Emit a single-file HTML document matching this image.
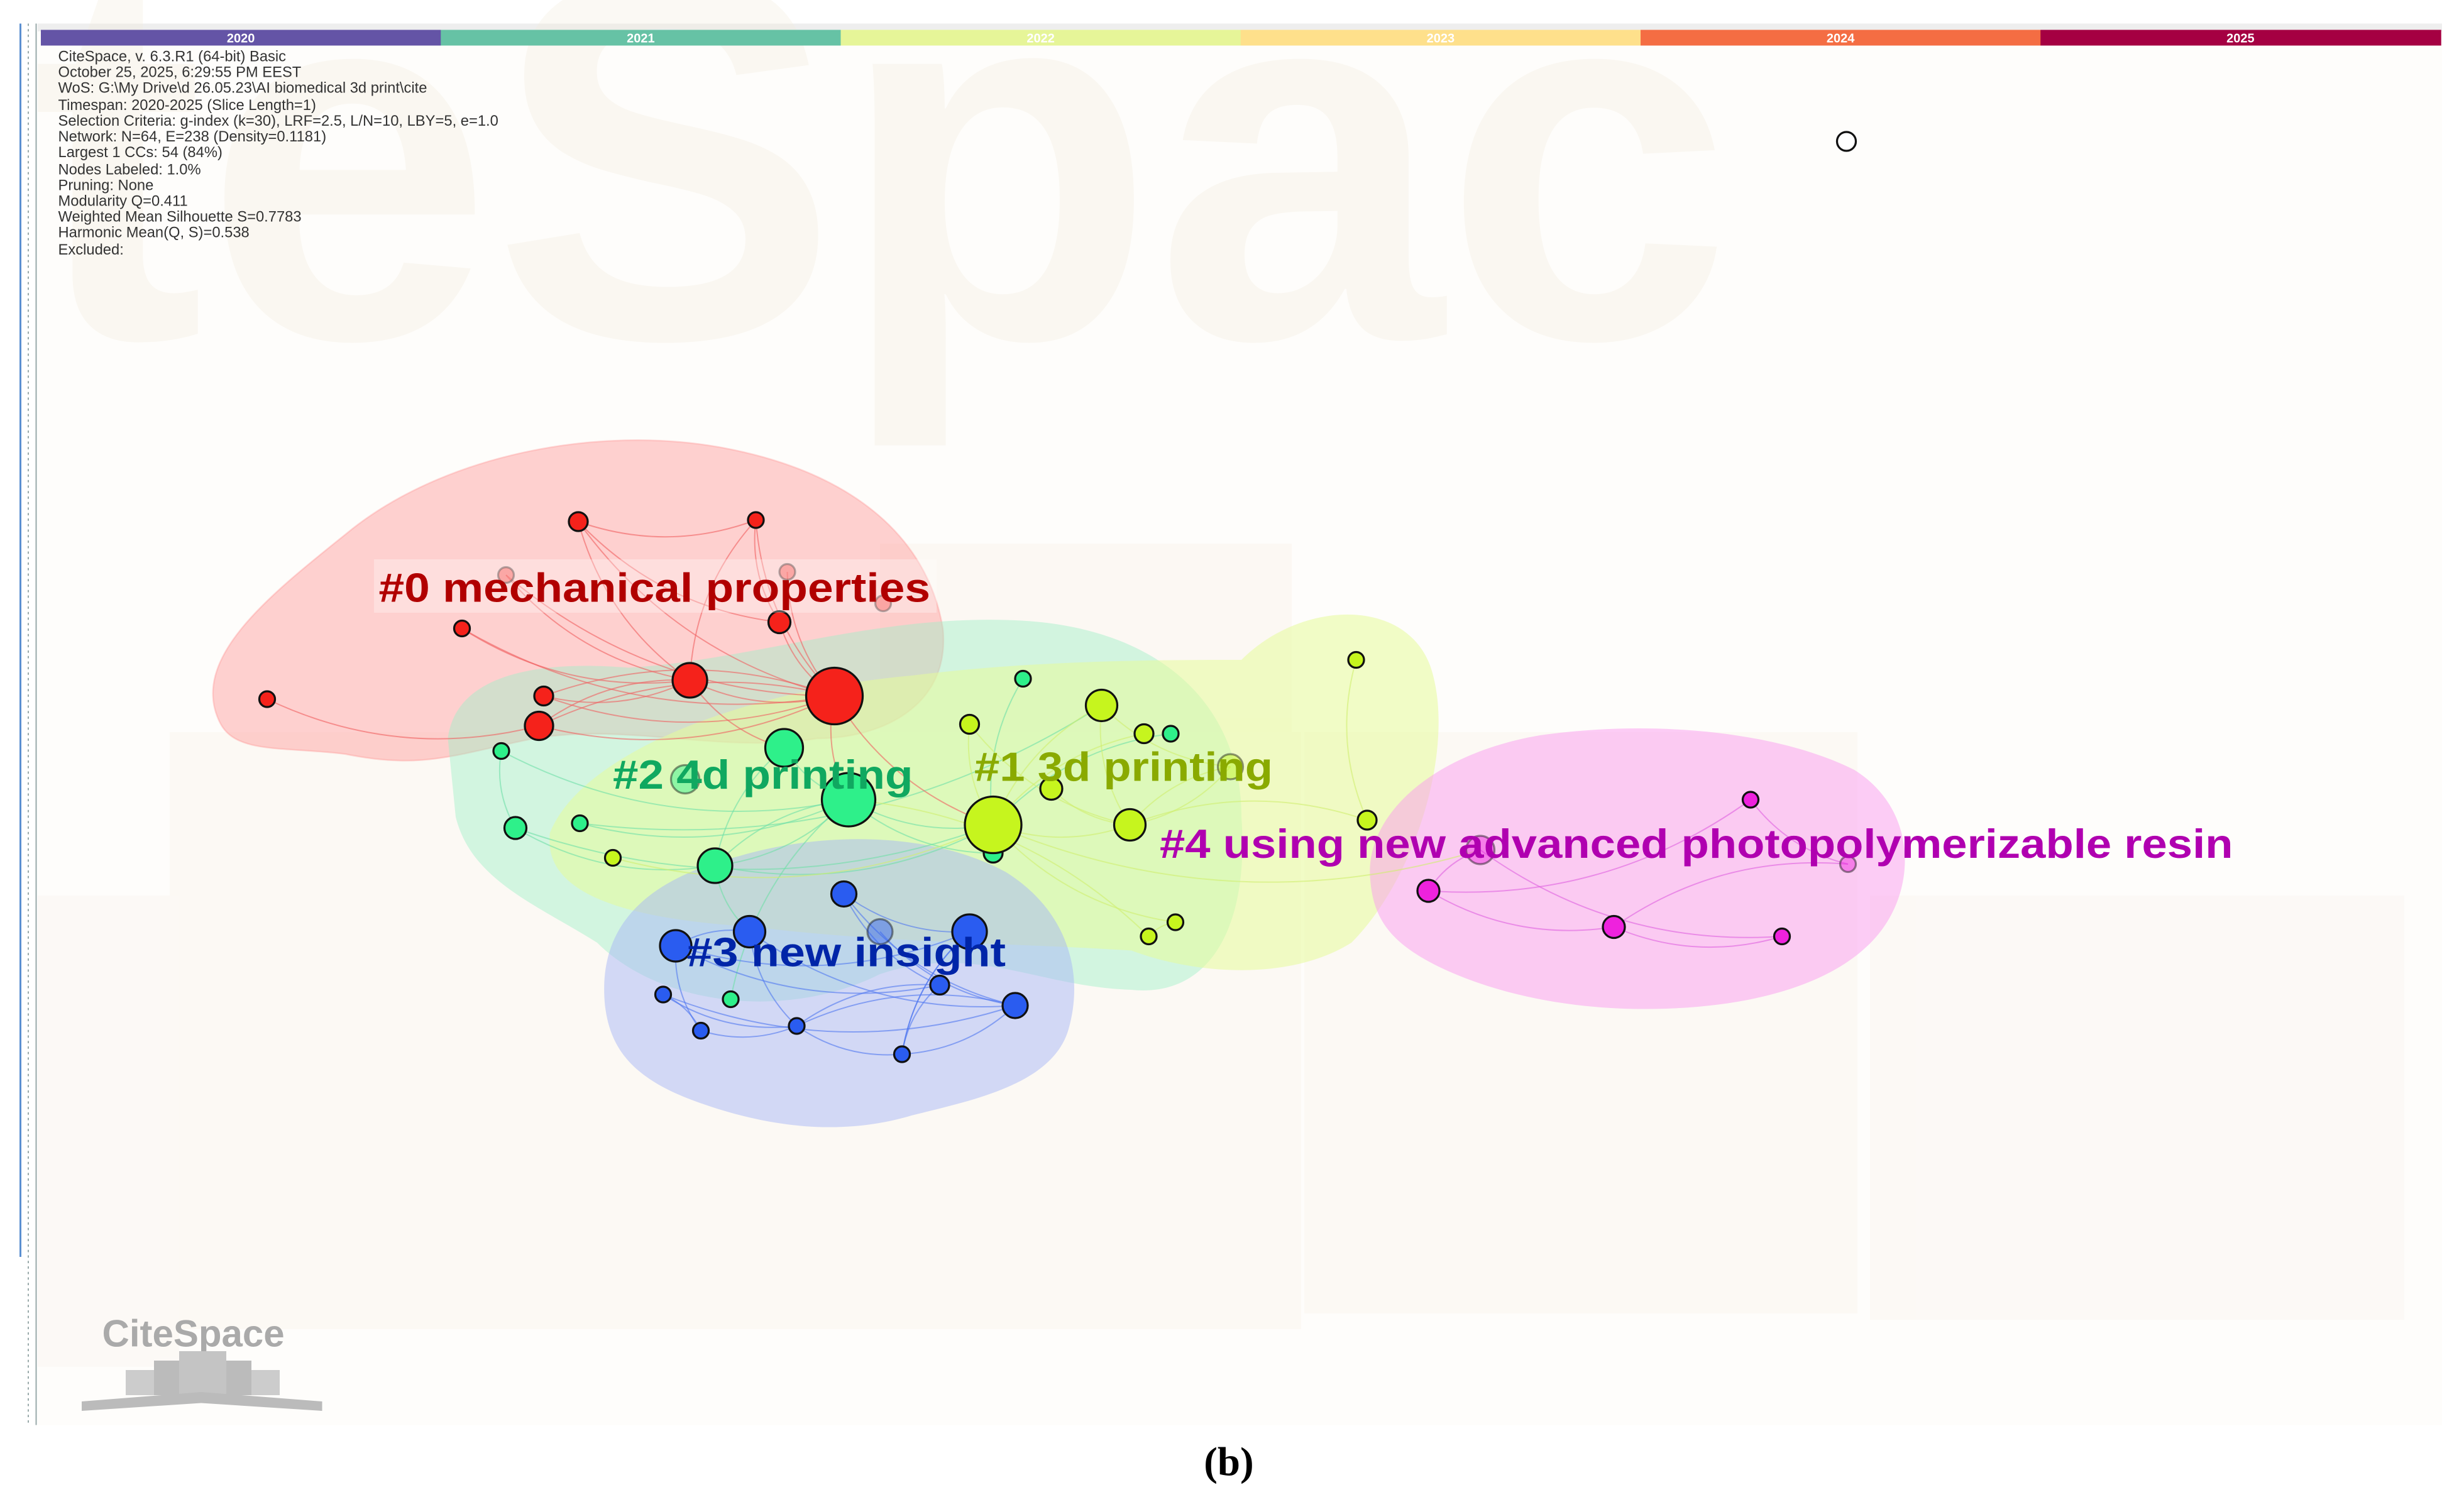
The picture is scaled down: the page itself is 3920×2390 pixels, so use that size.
<!DOCTYPE html>
<html><head><meta charset="utf-8"><style>
html,body{margin:0;padding:0;background:#fff}
svg{display:block}
</style></head><body>
<svg id="chart" width="3920" height="2390" viewBox="0 0 1568 956" xmlns="http://www.w3.org/2000/svg" font-family="Liberation Sans, sans-serif">
<rect x="0" y="0" width="1568" height="956" fill="#fff"/>
<g>
<rect x="24" y="15" width="1530" height="892" fill="#fefdfb"/>
<rect x="24" y="15" width="1530" height="5" fill="#eeeeee"/>
<line x1="13" y1="15" x2="13" y2="800" stroke="#5b8fd0" stroke-width="1.2"/>
<line x1="18" y1="15" x2="18" y2="907" stroke="#9aa" stroke-width="0.8" stroke-dasharray="1.5,2"/>
<line x1="23" y1="15" x2="23" y2="907" stroke="#9aa" stroke-width="0.8"/>
</g>
<g opacity="0.3">
<text x="20" y="215" font-size="330" font-weight="bold" fill="#f3ecdc">teSpac</text>
<rect x="108" y="466" width="720" height="380" fill="#f8f2e6"/>
<rect x="560" y="346" width="262" height="120" fill="#f8efe0"/>
<rect x="830" y="466" width="352" height="370" fill="#f8f2e6"/>
<rect x="1190" y="570" width="340" height="270" fill="#f8f3ea"/>
<rect x="24" y="570" width="90" height="300" fill="#f8f3ea"/>
</g>
<g id="timeline"></g>
<g font-size="9.5" fill="#333">
<text x="37" y="39">CiteSpace, v. 6.3.R1 (64-bit) Basic</text>
<text x="37" y="49">October 25, 2025, 6:29:55 PM EEST</text>
<text x="37" y="59">WoS: G:\My Drive\d 26.05.23\AI biomedical 3d print\cite</text>
<text x="37" y="70">Timespan: 2020-2025 (Slice Length=1)</text>
<text x="37" y="80">Selection Criteria: g-index (k=30), LRF=2.5, L/N=10, LBY=5, e=1.0</text>
<text x="37" y="90">Network: N=64, E=238 (Density=0.1181)</text>
<text x="37" y="100">Largest 1 CCs: 54 (84%)</text>
<text x="37" y="111">Nodes Labeled: 1.0%</text>
<text x="37" y="121">Pruning: None</text>
<text x="37" y="131">Modularity Q=0.411</text>
<text x="37" y="141">Weighted Mean Silhouette S=0.7783</text>
<text x="37" y="151">Harmonic Mean(Q, S)=0.538</text>
<text x="37" y="162">Excluded:</text>
</g>
<g>
<path d="M140,460 C120,420 170,380 220,340 C280,290 380,270 460,285 C540,300 590,340 600,400 C605,450 560,470 520,470 C460,480 400,460 340,470 C290,480 270,490 220,480 C180,475 150,480 140,460 Z" fill="#ff9a9a" fill-opacity="0.45" stroke="#f88" stroke-opacity="0.3"/>
<path d="M285,470 C290,430 340,420 400,425 C480,420 560,390 650,395 C740,400 790,450 790,520 C795,590 770,635 720,630 C660,628 620,600 560,620 C500,650 420,640 380,600 C340,575 300,560 290,520 Z" fill="#9ff0c8" fill-opacity="0.45"/>
<path d="M350,530 C370,480 470,440 580,430 C660,420 740,420 790,420 C830,380 900,380 912,430 C925,480 900,560 860,600 C820,625 760,620 720,605 C640,600 560,600 480,590 C400,585 345,570 350,530 Z" fill="#e6fb9a" fill-opacity="0.55"/>
<path d="M385,640 C380,590 410,560 470,545 C520,530 590,528 640,555 C680,580 690,620 680,655 C670,690 620,700 580,710 C530,725 480,715 440,700 C400,685 388,665 385,640 Z" fill="#a8b8f6" fill-opacity="0.5"/>
<path d="M872,560 C868,520 910,480 980,468 C1050,458 1130,465 1180,490 C1220,515 1220,565 1195,595 C1170,625 1120,640 1060,642 C1000,644 950,632 915,615 C885,600 874,585 872,560 Z" fill="#fa9cf0" fill-opacity="0.5"/>
</g>
<g id="edges"></g>
<g id="nodes"></g>
<g font-weight="bold" font-size="26">
<rect x="238" y="356" width="358" height="34" fill="#fff" fill-opacity="0.3"/>
<text x="241" y="383" fill="#b10000" textLength="351" lengthAdjust="spacingAndGlyphs">#0 mechanical properties</text>
<text x="390" y="502" fill="#10a860" textLength="191" lengthAdjust="spacingAndGlyphs">#2 4d printing</text>
<text x="620" y="497" fill="#8aaa00" textLength="190" lengthAdjust="spacingAndGlyphs">#1 3d printing</text>
<text x="738" y="546" fill="#b000b0" textLength="683" lengthAdjust="spacingAndGlyphs">#4 using new advanced photopolymerizable resin</text>
<text x="437" y="615" fill="#0025a8" textLength="203" lengthAdjust="spacingAndGlyphs">#3 new insight</text>
</g>
<g>
<text x="65" y="857" font-size="24" font-weight="bold" fill="#aaa">CiteSpace</text>
<rect x="80" y="872" width="18" height="16" fill="#ccc"/><rect x="98" y="866" width="16" height="22" fill="#bbb"/>
<rect x="114" y="860" width="30" height="28" fill="#c4c4c4"/><rect x="144" y="866" width="16" height="22" fill="#bbb"/>
<rect x="160" y="872" width="18" height="16" fill="#ccc"/>
<path d="M52,892 L128,886 L205,892 L205,898 L128,893 L52,898 Z" fill="#bbb"/>
</g>
<text x="782" y="939" font-family="Liberation Serif, serif" font-size="26" font-weight="bold" text-anchor="middle" fill="#000">(b)</text>
</svg>
<script>
const years=["2020","2021","2022","2023","2024","2025"];
const yearColors=["#6454a6","#66c2a5","#e6f598","#fee08b","#f46d43","#a50042"];
const nodeX=[368,481,322,501,562,496,294,170,439,531,346,343, 499,319,540,436,328,369,455,651,745,632,465, 701,617,728,669,632,719,783,390,748,731,863,870, 537,477,560,617,430,598,646,422,446,507,574, 942,909,1114,1176,1027,1134, 1175];
const nodeY=[332,331,366,364,384,396,400,445,433,443,443,462, 476,478,509,496,527,524,551,432,467,543,636, 449,461,467,502,525,525,488,546,587,596,420,522, 569,593,593,593,602,627,640,633,656,653,671, 541,567,509,550,590,596, 90];
const nodeSize=[6,5,5,5,5,7,5,5,11,18,6,9, 12,5,17,9,7,5,11,5,5,6,5, 10,6,6,7,18,10,8,5,5,5,5,6, 8,10,8,11,10,6,8,5,5,5,5, 9,7,5,5,7,5, 6];
const nodeCluster=[0,0,0,0,0,0,0,0,0,0,0,0, 2,2,2,2,2,2,2,2,2,2,2, 1,1,1,1,1,1,1,1,1,1,1,1, 3,3,3,3,3,3,3,3,3,3,3, 4,4,4,4,4,4, 5];
const nodeFaded=[2,3,4,15,29,37,46,49];
const clusterColors=["#f5221b","#c6f51e","#2ef08a","#2a5cf0","#ee22dd","#ffffff"];
const edgeColors=["#f06060","#d0ef70","#70e0a8","#5078f0","#e060e0","#999"];
const edgeFrom=[0,0,1,1,0,5,6,6,8,8,9,9,10,11,7,1,0,2,3,2,10, 12,12,14,14,13,16,17,18,18,19,20,21,14,13,16,17, 23,23,24,25,26,27,27,28,29,30,31,32,33,34,27,24,23, 35,35,36,36,37,38,39,39,40,41,42,43,44,45,36,38,39,43,40,42,35, 46,47,48,49,50,47,46, 9,9,8,14,27,18];
const edgeTo=[8,9,9,5,1,9,8,9,9,11,11,10,9,9,11,8,5,8,9,9,8, 14,18,18,21,16,18,14,14,27,27,27,27,22,14,27,23, 27,28,27,27,28,28,31,29,28,27,32,14,34,28,46,28,29, 38,41,41,44,41,45,38,43,44,44,44,44,45,41,39,45,40,42,45,41,40, 47,48,49,50,51,50,51, 27,14,12,27,21,36];
const labelGeom={timelineX:26,timelineW:1527,timelineY:19,timelineH:10};
const NS="http://www.w3.org/2000/svg";
const tl=document.getElementById('timeline');
const segW=labelGeom.timelineW/years.length;
years.forEach((y,i)=>{
  const r=document.createElementNS(NS,'rect');
  r.setAttribute('x',labelGeom.timelineX+i*segW);r.setAttribute('y',labelGeom.timelineY);
  r.setAttribute('width',segW+0.5);r.setAttribute('height',labelGeom.timelineH);r.setAttribute('fill',yearColors[i]);
  
  
  tl.appendChild(r);
  const t=document.createElementNS(NS,'text');
  t.setAttribute('x',labelGeom.timelineX+i*segW+segW/2);t.setAttribute('y',labelGeom.timelineY+8);
  t.setAttribute('text-anchor','middle');t.setAttribute('font-size','8');t.setAttribute('font-weight','bold');
  t.setAttribute('fill','#fff');t.textContent=y;
  
  
  tl.appendChild(t);
});
const eg=document.getElementById('edges');
edgeFrom.forEach((a,i)=>{
  const b=edgeTo[i];
  const x1=nodeX[a],y1=nodeY[a],x2=nodeX[b],y2=nodeY[b];
  const mx=(x1+x2)/2,my=(y1+y2)/2,dx=x2-x1,dy=y2-y1;
  const cx=mx-dy*0.18,cy=my+dx*0.18;
  const p=document.createElementNS(NS,'path');
  p.setAttribute('d',`M${x1},${y1} Q${cx},${cy} ${x2},${y2}`);
  p.setAttribute('fill','none');p.setAttribute('stroke',edgeColors[nodeCluster[a]]);
  p.setAttribute('stroke-width','0.8');p.setAttribute('stroke-opacity','0.6');
  
  
  eg.appendChild(p);
});
const ng=document.getElementById('nodes');
nodeX.forEach((x,i)=>{
  const c=document.createElementNS(NS,'circle');
  c.setAttribute('cx',x);c.setAttribute('cy',nodeY[i]);c.setAttribute('r',nodeSize[i]);
  c.setAttribute('fill',clusterColors[nodeCluster[i]]);
  c.setAttribute('stroke','#111');c.setAttribute('stroke-width','1.3');
  if(nodeFaded.includes(i)){c.setAttribute('fill-opacity','0.45');c.setAttribute('stroke-opacity','0.45');}
  
  
  ng.appendChild(c);
});
</script>
</body></html>
